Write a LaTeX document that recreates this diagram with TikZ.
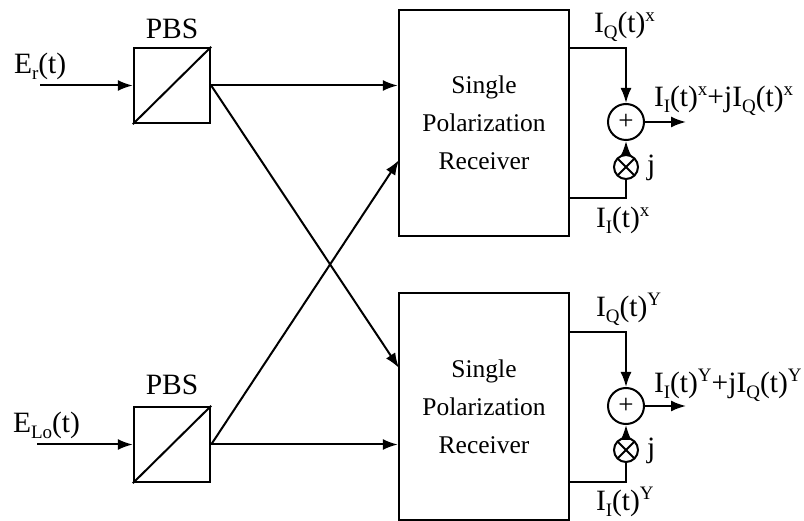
\documentclass[tikz,border=0pt]{standalone}
\usepackage{fontspec}
\setmainfont{Liberation Serif}
\usetikzlibrary{arrows.meta,calc}
\newcommand\lsub[1]{\raisebox{-0.2em}{\fontsize{19}{19}\selectfont #1}}
\newcommand\lsup[1]{\raisebox{0.4em}{\fontsize{19}{19}\selectfont #1}}
\begin{document}
\begin{tikzpicture}[x=1pt,y=-1pt,
  line width=2pt,
  arr/.style={-{Latex[length=15pt,width=11pt]}},
  pbsbox/.style={draw,line width=2.4pt,minimum width=76pt,minimum height=75pt,inner sep=0pt},
  rxbox/.style={draw,line width=2.4pt,minimum width=170pt,inner sep=0pt,align=center,
     font=\fontsize{25.5}{38}\selectfont},
  lbl/.style={inner sep=0pt,font=\fontsize{29.5}{34}\selectfont},
  addc/.style={draw,circle,minimum size=36pt,inner sep=0pt,font=\fontsize{27}{27}\selectfont},
  mulc/.style={draw,circle,minimum size=24pt,inner sep=0pt}
]
\useasboundingbox (0,0) rectangle (804,521);
% PBS boxes
\node[pbsbox] (pbs1) at (172,85.5) {};
\node[pbsbox] (pbs2) at (172,444.5) {};
\draw (pbs1.south west) -- (pbs1.north east);
\draw (pbs2.south west) -- (pbs2.north east);
\node[lbl,anchor=base] (pbsl1) at (172,39) {PBS};
\node[lbl,anchor=base] (pbsl2) at (172,395) {PBS};
% receivers
\node[rxbox,minimum height=226pt] (rx1) at (484,123) {Single\\Polarization\\Receiver};
\node[rxbox,minimum height=227pt] (rx2) at (484,406.5) {Single\\Polarization\\Receiver};
% inputs
\coordinate (in1) at (40,85.5);
\coordinate (in2) at (37,444.5);
\draw[arr] (in1) -- (pbs1.west);
\draw[arr] (in2) -- (pbs2.west);
\node[lbl,anchor=base west] (er) at (13,74) {E\lsub{r}(t)};
\node[lbl,anchor=base west] (elo) at (12,433) {E\lsub{Lo}(t)};
% PBS to receivers
\draw[arr] (pbs1.east) -- (rx1.west |- pbs1.east);
\draw[arr] (pbs2.east) -- (rx2.west |- pbs2.east);
\coordinate (t1) at (399,160);
\coordinate (t2) at (399,368);
\draw[arr] (pbs1.east) -- (t2);
\draw[arr] (pbs2.east) -- (t1);
% top combiner
\node[addc] (add1) at (626,122) {+};
\node[mulc] (mul1) at (626,167) {};
\draw ($(mul1.center)+(-8.5,-8.5)$) -- ($(mul1.center)+(8.5,8.5)$);
\draw ($(mul1.center)+(-8.5,8.5)$) -- ($(mul1.center)+(8.5,-8.5)$);
\coordinate (q1) at (569,48);
\coordinate (i1) at (569,198);
\draw[arr] (q1) -| (add1.north);
\draw (i1) -| (mul1.south);
\draw[arr] (mul1.north) -- (add1.south);
\coordinate (o1) at (686,122);
\draw[arr] (add1.east) -- (o1);
\node[lbl,anchor=base west] (lq1) at (593,33) {I\lsub{Q}(t)\lsup{x}};
\node[lbl,anchor=base west] (li1) at (595,228) {I\lsub{I}(t)\lsup{x}};
\node[lbl,anchor=base west] (ls1) at (653,107) {I\lsub{I}(t)\lsup{x}+jI\lsub{Q}(t)\lsup{x}};
\node[lbl,anchor=base west] (lj1) at (646,175) {j};
% bottom combiner
\node[addc] (add2) at (626,406) {+};
\node[mulc] (mul2) at (626,450) {};
\draw ($(mul2.center)+(-8.5,-8.5)$) -- ($(mul2.center)+(8.5,8.5)$);
\draw ($(mul2.center)+(-8.5,8.5)$) -- ($(mul2.center)+(8.5,-8.5)$);
\coordinate (q2) at (569,332);
\coordinate (i2) at (569,482);
\draw[arr] (q2) -| (add2.north);
\draw (i2) -| (mul2.south);
\draw[arr] (mul2.north) -- (add2.south);
\coordinate (o2) at (686,406);
\draw[arr] (add2.east) -- (o2);
\node[lbl,anchor=base west] (lq2) at (595,317) {I\lsub{Q}(t)\lsup{Y}};
\node[lbl,anchor=base west] (li2) at (595,511) {I\lsub{I}(t)\lsup{Y}};
\node[lbl,anchor=base west] (ls2) at (653,393) {I\lsub{I}(t)\lsup{Y}+jI\lsub{Q}(t)\lsup{Y}};
\node[lbl,anchor=base west] (lj2) at (646,458) {j};
\end{tikzpicture}
\end{document}
